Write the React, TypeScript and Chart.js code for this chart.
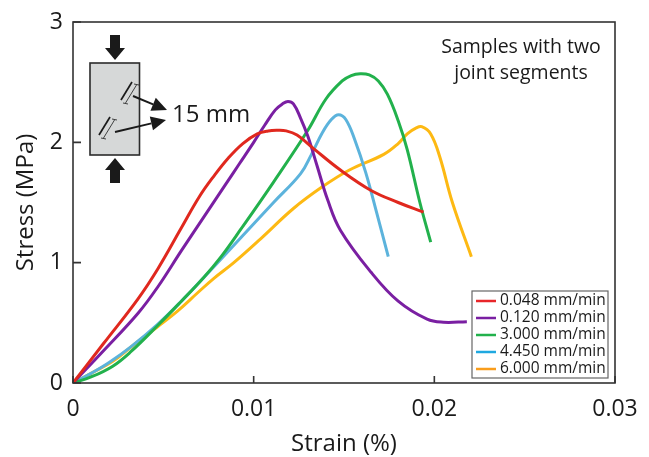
import React, { useEffect, useRef } from "react";
import { Chart, registerables } from "chart.js";

Chart.register(...registerables);

const seriesLabels = ["0.048 mm/min", "0.120 mm/min", "3.000 mm/min", "4.450 mm/min", "6.000 mm/min"];
const seriesColors = ["#e0281e", "#7a1fa2", "#22b14c", "#5cb3dc", "#fdb913"];
const legendColors = ["#e8262a", "#7a1fa2", "#22b14c", "#1fa8e0", "#f99d1c"];
const xTicks = [0, 0.01, 0.02, 0.03];
const yTicks = [0, 1, 2, 3];

const redX = [0, .0017, .0036, .0047, .006, .007, .0078, .0086, .0094, .0102, .0108, .0113, .0118, .0124, .0133, .0148, .0165, .018, .0194];
const redY = [0, .33, .70, .95, 1.29, 1.55, 1.72, 1.87, 1.99, 2.07, 2.095, 2.10, 2.095, 2.06, 1.95, 1.77, 1.60, 1.50, 1.42];
const purpleX = [0, .0017, .0036, .0047, .006, .0072, .0084, .0092, .01, .0106, .0112, .0116, .0119, .0122, .0126, .013, .0135, .0141, .0148, .0165, .018, .0196, .0205, .0218];
const purpleY = [0, .27, .58, .80, 1.10, 1.37, 1.64, 1.82, 2.0, 2.14, 2.27, 2.32, 2.34, 2.32, 2.2, 2.05, 1.81, 1.52, 1.27, .92, .68, .53, .505, .51];
const greenX = [0, .001, .0022, .0032, .0047, .006, .0072, .0082, .0093, .0111, .013, .014, .0149, .0154, .0159, .0164, .0169, .0174, .018, .0185, .0192, .0198];
const greenY = [0, .05, .14, .26, .48, .68, .87, 1.05, 1.28, 1.67, 2.10, 2.36, 2.51, 2.555, 2.57, 2.56, 2.51, 2.40, 2.18, 1.94, 1.50, 1.17];
const blueX = [0, .001, .002, .0032, .0047, .006, .0072, .0082, .0093, .0111, .0126, .0132, .0138, .0143, .0147, .0151, .0156, .0162, .0168, .01745];
const blueY = [0, .08, .17, .30, .49, .68, .87, 1.03, 1.21, 1.50, 1.74, 1.90, 2.08, 2.19, 2.23, 2.19, 2.02, 1.75, 1.42, 1.05];
const yellowX = [0, .001, .0022, .0033, .0047, .0058, .0069, .0078, .0089, .0104, .0122, .0138, .0153, .0172, .018, .0185, .019, .0193, .0198, .0203, .021, .02205];
const yellowY = [0, .08, .18, .31, .47, .60, .75, .87, 1.0, 1.2, 1.45, 1.63, 1.77, 1.90, 1.99, 2.07, 2.12, 2.13, 2.07, 1.88, 1.50, 1.05];

const xSeries = [redX, purpleX, greenX, blueX, yellowX];
const ySeries = [redY, purpleY, greenY, blueY, yellowY];

const FONT = '"Open Sans", "Noto Sans", sans-serif';

function blockArrow(ctx: CanvasRenderingContext2D, x: number, tip: number, dir: number) {
  ctx.beginPath();
  ctx.moveTo(x, tip);
  ctx.lineTo(x - 10, tip - dir * 12);
  ctx.lineTo(x - 5, tip - dir * 12);
  ctx.lineTo(x - 5, tip - dir * 25);
  ctx.lineTo(x + 5, tip - dir * 25);
  ctx.lineTo(x + 5, tip - dir * 12);
  ctx.lineTo(x + 10, tip - dir * 12);
  ctx.closePath();
  ctx.fill();
}

function pointer(ctx: CanvasRenderingContext2D, x0: number, y0: number, x1: number, y1: number) {
  const a = Math.atan2(y1 - y0, x1 - x0);
  const len = 15;
  const hw = 7;
  const bx = x1 - len * Math.cos(a);
  const by = y1 - len * Math.sin(a);
  ctx.lineWidth = 1.9;
  ctx.beginPath();
  ctx.moveTo(x0, y0);
  ctx.lineTo(bx, by);
  ctx.stroke();
  ctx.beginPath();
  ctx.moveTo(x1, y1);
  ctx.lineTo(bx - hw * Math.sin(a), by + hw * Math.cos(a));
  ctx.lineTo(bx + hw * Math.sin(a), by - hw * Math.cos(a));
  ctx.closePath();
  ctx.fill();
}

function gauge(ctx: CanvasRenderingContext2D, x0: number, y0: number, x1: number, y1: number) {
  ctx.lineWidth = 1.7;
  ctx.beginPath();
  ctx.moveTo(x0, y0);
  ctx.lineTo(x1, y1);
  ctx.stroke();
  ctx.lineWidth = 0.8;
  ctx.beginPath();
  ctx.moveTo(x0 + 4.5, y0 + 3);
  ctx.lineTo(x1 + 4.5, y1 + 3);
  ctx.moveTo(x0 + 2, y0 + 3);
  ctx.lineTo(x0 + 7, y0 + 4);
  ctx.moveTo(x1 + 2, y1 + 2);
  ctx.lineTo(x1 + 7, y1 + 3);
  ctx.stroke();
}

const decorations = {
  id: "decorations",
  afterDatasetsDraw(chart: any) {
    const { ctx, chartArea: a, scales } = chart;
    ctx.save();

    ctx.strokeStyle = "#333333";
    ctx.lineWidth = 1.6;
    ctx.strokeRect(a.left, a.top, a.right - a.left, a.bottom - a.top);
    ctx.beginPath();
    for (const t of xTicks) {
      const px = scales.x.getPixelForValue(t);
      ctx.moveTo(px, a.bottom);
      ctx.lineTo(px, a.bottom - 7);
    }
    for (const t of yTicks) {
      const py = scales.y.getPixelForValue(t);
      ctx.moveTo(a.left, py);
      ctx.lineTo(a.left + 8, py);
    }
    ctx.stroke();

    ctx.fillStyle = "#d6d8d8";
    ctx.fillRect(90, 63, 49.5, 92);
    ctx.strokeStyle = "#2b2b2b";
    ctx.lineWidth = 1.6;
    ctx.strokeRect(90, 63, 49.5, 92);
    ctx.fillStyle = "#1a1a1a";
    ctx.strokeStyle = "#1a1a1a";
    blockArrow(ctx, 115, 60, 1);
    blockArrow(ctx, 115, 158, -1);
    gauge(ctx, 121, 100, 132, 82);
    gauge(ctx, 99, 135, 110, 117);
    pointer(ctx, 133, 96, 167, 110);
    pointer(ctx, 115, 132, 166, 120);
    ctx.fillStyle = "#1a1a1a";
    ctx.font = `24px ${FONT}`;
    ctx.textAlign = "left";
    ctx.textBaseline = "middle";
    ctx.fillText("15 mm", 172, 115);

    ctx.font = `19.5px ${FONT}`;
    ctx.textAlign = "center";
    ctx.fillText("Samples with two", 521, 47);
    ctx.fillText("joint segments", 521, 73);

    const lx = 472, ly = 291, lw = 136, lh = 87;
    ctx.fillStyle = "#ffffff";
    ctx.fillRect(lx, ly, lw, lh);
    ctx.strokeStyle = "#666666";
    ctx.lineWidth = 1.2;
    ctx.strokeRect(lx, ly, lw, lh);
    ctx.font = `15.5px ${FONT}`;
    ctx.textAlign = "left";
    chart.data.datasets.forEach((d: any, i: number) => {
      const y = ly + 10 + i * 17;
      ctx.strokeStyle = legendColors[i];
      ctx.lineWidth = 2.5;
      ctx.beginPath();
      ctx.moveTo(lx + 4, y);
      ctx.lineTo(lx + 24, y);
      ctx.stroke();
      ctx.fillStyle = "#1a1a1a";
      ctx.fillText(d.label, lx + 28, y);
    });
    ctx.restore();
  },
};

export default function App() {
  const ref = useRef<HTMLCanvasElement>(null);
  useEffect(() => {
    const chart = new Chart(ref.current!, {
      type: "line",
      data: {
        datasets: seriesLabels.map((label, i) => ({
          label,
          data: xSeries[i].map((x, j) => ({ x, y: ySeries[i][j] })),
          borderColor: seriesColors[i],
          borderWidth: 3,
          pointRadius: 0,
          tension: 0.4,
          fill: false,
        })),
      },
      options: {
        animation: false,
        responsive: false,
        layout: { padding: { top: 22, right: 34, left: 0, bottom: 0 } },
        plugins: { legend: { display: false }, tooltip: { enabled: false } },
        scales: {
          x: {
            type: "linear",
            min: 0,
            max: 0.03,
            afterBuildTicks: (s: any) => { s.ticks = xTicks.map((value) => ({ value })); },
            afterFit: (s: any) => { s.height = 74; },
            grid: { display: false },
            border: { display: false },
            ticks: {
              maxRotation: 0,
              padding: 5,
              color: "#1a1a1a",
              font: { family: FONT, size: 23 },
              callback: (v: any) => String(v),
            },
            title: {
              display: true,
              text: "Strain (%)",
              color: "#1a1a1a",
              font: { family: FONT, size: 24 },
              padding: { top: 0, bottom: -2 },
            },
          },
          y: {
            type: "linear",
            min: 0,
            max: 3,
            afterBuildTicks: (s: any) => { s.ticks = yTicks.map((value) => ({ value })); },
            afterFit: (s: any) => { s.width = 73; },
            grid: { display: false },
            border: { display: false },
            ticks: {
              padding: 2,
              color: "#1a1a1a",
              font: { family: FONT, size: 23 },
              callback: (v: any) => String(v),
            },
            title: {
              display: true,
              text: "Stress (MPa)",
              color: "#1a1a1a",
              font: { family: FONT, size: 24 },
              padding: { top: 12, bottom: 0 },
            },
          },
        },
      },
      plugins: [decorations],
    });
    return () => chart.destroy();
  }, []);
  return (
    <div style={{ position: "absolute", left: 0, top: 0, width: 649, height: 457, background: "#fff" }}>
      <canvas ref={ref} width={649} height={457} style={{ display: "block" }} />
    </div>
  );
}
